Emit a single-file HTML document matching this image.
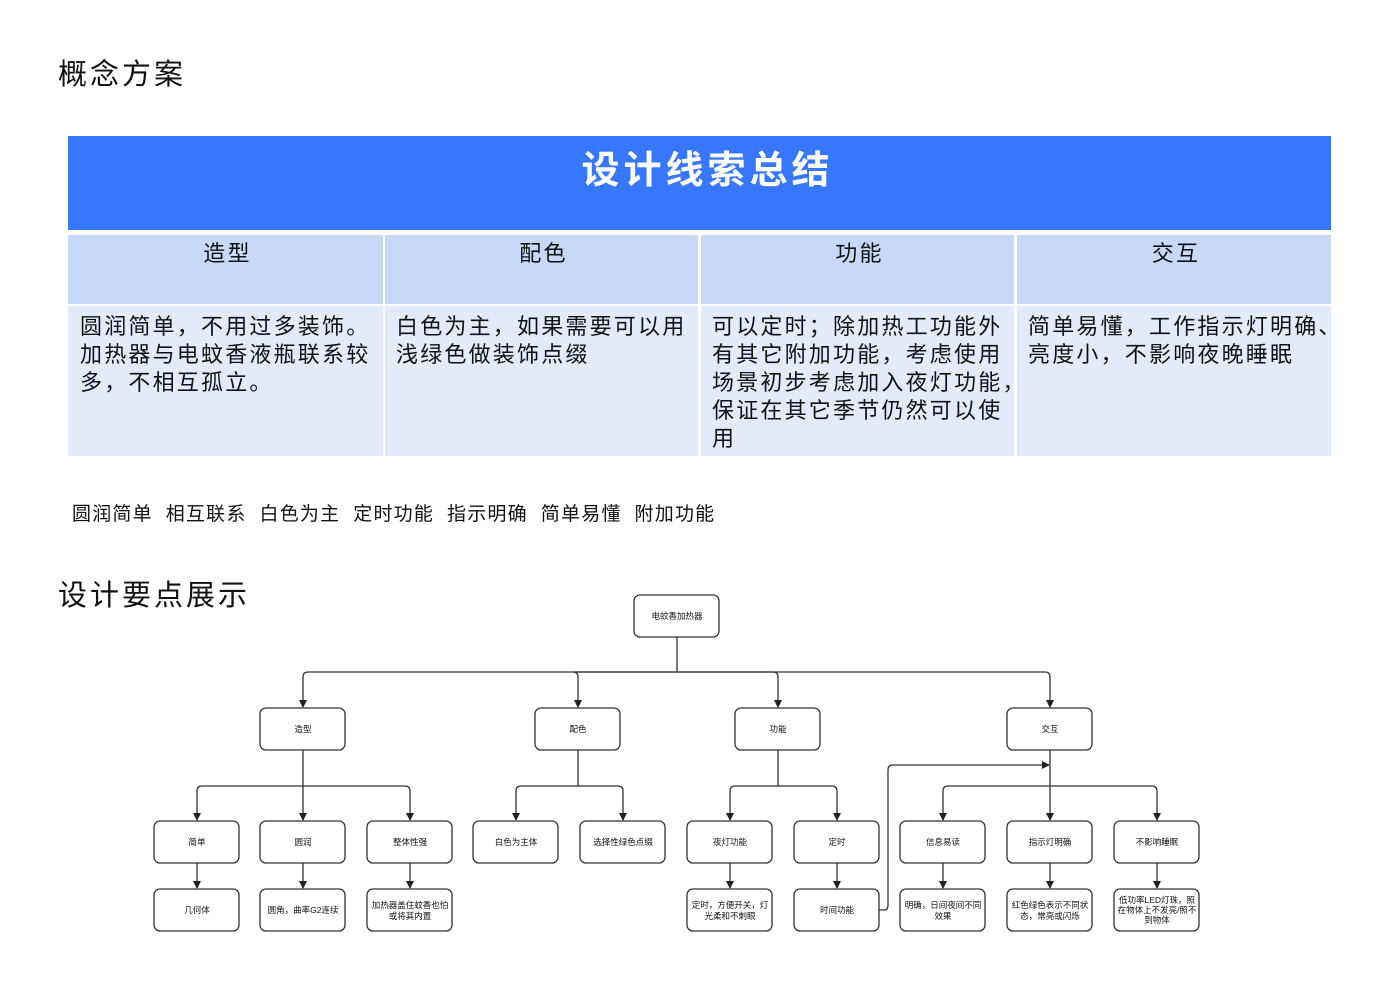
<!DOCTYPE html>
<html><head><meta charset="utf-8"><style>
body{margin:0;width:1400px;height:990px;background:#fff;position:relative;overflow:hidden;font-family:"Liberation Sans","Noto Sans CJK SC",sans-serif;color:#111}
.a{position:absolute;white-space:nowrap}
.t{font-size:22px;letter-spacing:2.2px;line-height:28px}
</style></head><body>
<div class="a" style="left:58px;top:51px;font-size:29px;letter-spacing:3px">概念方案</div>
<div class="a" style="left:68px;top:136px;width:1263px;height:94px;background:#3677fe"></div>
<div class="a" style="left:76px;top:139px;width:1263px;text-align:center;color:#fff;font-size:38px;font-weight:bold;letter-spacing:4px">设计线索总结</div>
<div class="a" style="left:68px;top:235px;width:315px;height:69px;background:#c6d9f7"></div>
<div class="a" style="left:385px;top:235px;width:313px;height:69px;background:#c6d9f7"></div>
<div class="a" style="left:701px;top:235px;width:313px;height:69px;background:#c6d9f7"></div>
<div class="a" style="left:1017px;top:235px;width:314px;height:69px;background:#c6d9f7"></div>
<div class="a" style="left:68px;top:306px;width:315px;height:150px;background:#e3ebfb"></div>
<div class="a" style="left:385px;top:306px;width:313px;height:150px;background:#e3ebfb"></div>
<div class="a" style="left:701px;top:306px;width:313px;height:150px;background:#e3ebfb"></div>
<div class="a" style="left:1017px;top:306px;width:314px;height:150px;background:#e3ebfb"></div>
<div class="a t" style="left:70px;top:240px;width:315px;text-align:center">造型</div>
<div class="a t" style="left:387px;top:240px;width:313px;text-align:center">配色</div>
<div class="a t" style="left:703px;top:240px;width:313px;text-align:center">功能</div>
<div class="a t" style="left:1019px;top:240px;width:314px;text-align:center">交互</div>
<div class="a t" style="left:80px;top:313px">圆润简单，不用过多装饰。<br>加热器与电蚊香液瓶联系较<br>多，不相互孤立。</div>
<div class="a t" style="left:396px;top:313px">白色为主，如果需要可以用<br>浅绿色做装饰点缀</div>
<div class="a t" style="left:712px;top:313px">可以定时；除加热工功能外<br>有其它附加功能，考虑使用<br>场景初步考虑加入夜灯功能，<br>保证在其它季节仍然可以使<br>用</div>
<div class="a t" style="left:1028px;top:313px">简单易懂，工作指示灯明确、<br>亮度小，不影响夜晚睡眠</div>
<div class="a" style="left:72px;top:499px;font-size:19px;letter-spacing:1.2px">圆润简单&nbsp; 相互联系&nbsp; 白色为主&nbsp; 定时功能&nbsp; 指示明确&nbsp; 简单易懂&nbsp; 附加功能</div>
<div class="a" style="left:58px;top:572px;font-size:29px;letter-spacing:3px">设计要点展示</div>
<svg class="a" style="left:0;top:0" width="1400" height="990" font-family="Liberation Sans,Noto Sans CJK SC,sans-serif" font-size="8.5">
<defs><marker id="m" markerWidth="8" markerHeight="8" refX="7" refY="4" orient="auto" markerUnits="userSpaceOnUse"><path d="M0,0 L8,4 L0,8z" fill="#222"/></marker></defs>
<g stroke="#333" stroke-width="1.3" fill="none" marker-end="url(#m)">
<path d="M677,637 V672 H308 Q303,672 303,677 V707"/>
<path d="M677,672 H573 Q578,672 578,677 V707"/>
<path d="M677,672 H773 Q778,672 778,677 V707"/>
<path d="M677,672 H1045 Q1050,672 1050,677 V707"/>
<path d="M303,750 V786 H202 Q197,786 197,791 V820"/>
<path d="M303,786 V820"/>
<path d="M303,786 H405 Q410,786 410,791 V820"/>
<path d="M578,750 V786 H521 Q516,786 516,791 V820"/>
<path d="M578,786 H618 Q623,786 623,791 V820"/>
<path d="M778,750 V786 H735 Q730,786 730,791 V820"/>
<path d="M778,786 H832 Q837,786 837,791 V820"/>
<path d="M1050,750 V786 H948 Q943,786 943,791 V820"/>
<path d="M1050,786 V820"/>
<path d="M1050,786 H1152 Q1157,786 1157,791 V820"/>
<path d="M879,910 H884 Q888,910 888,905 V770 Q888,765 893,765 H1049"/>
<path d="M197,863 V888"/><path d="M303,863 V888"/><path d="M410,863 V888"/>
<path d="M730,863 V888"/><path d="M837,863 V888"/><path d="M943,863 V888"/><path d="M1050,863 V888"/><path d="M1157,863 V888"/>
</g>
<g fill="#fff" stroke="#333" stroke-width="1.3">
<rect x="634" y="595" width="85" height="42" rx="6"/>
<rect x="260" y="708" width="85" height="42" rx="6"/><rect x="535" y="708" width="85" height="42" rx="6"/><rect x="735" y="708" width="85" height="42" rx="6"/><rect x="1007" y="708" width="85" height="42" rx="6"/>
<rect x="154" y="821" width="85" height="42" rx="6"/><rect x="260" y="821" width="85" height="42" rx="6"/><rect x="367" y="821" width="85" height="42" rx="6"/><rect x="473" y="821" width="85" height="42" rx="6"/><rect x="580" y="821" width="85" height="42" rx="6"/><rect x="687" y="821" width="85" height="42" rx="6"/><rect x="794" y="821" width="85" height="42" rx="6"/><rect x="900" y="821" width="85" height="42" rx="6"/><rect x="1007" y="821" width="85" height="42" rx="6"/><rect x="1114" y="821" width="85" height="42" rx="6"/>
<rect x="154" y="889" width="85" height="42" rx="6"/><rect x="260" y="889" width="85" height="42" rx="6"/><rect x="367" y="889" width="85" height="42" rx="6"/><rect x="687" y="889" width="85" height="42" rx="6"/><rect x="794" y="889" width="85" height="42" rx="6"/><rect x="900" y="889" width="85" height="42" rx="6"/><rect x="1007" y="889" width="85" height="42" rx="6"/><rect x="1114" y="889" width="85" height="42" rx="6"/>
</g>
<g text-anchor="middle" fill="#111">
<text x="677" y="619">电蚊香加热器</text>
<text x="303" y="732">造型</text><text x="578" y="732">配色</text><text x="778" y="732">功能</text><text x="1050" y="732">交互</text>
<text x="197" y="845">简单</text><text x="303" y="845">圆润</text><text x="410" y="845">整体性强</text><text x="516" y="845">白色为主体</text><text x="623" y="845">选择性绿色点缀</text><text x="730" y="845">夜灯功能</text><text x="837" y="845">定时</text><text x="943" y="845">信息易读</text><text x="1050" y="845">指示灯明确</text><text x="1157" y="845">不影响睡眠</text>
<text x="197" y="913">几何体</text><text x="303" y="913">圆角，曲率G2连续</text>
<text x="410" y="908">加热器盖住蚊香也怕</text><text x="410" y="919">或将其内置</text>
<text x="730" y="908">定时，方便开关，灯</text><text x="730" y="919">光柔和不刺眼</text>
<text x="837" y="913">时间功能</text>
<text x="943" y="908">明确，日间夜间不同</text><text x="943" y="919">效果</text>
<text x="1050" y="908">红色绿色表示不同状</text><text x="1050" y="919">态，常亮或闪烁</text>
<text x="1157" y="903">低功率LED灯珠，照</text><text x="1157" y="913">在物体上不发亮/照不</text><text x="1157" y="923">到物体</text>
</g>
</svg>
</body></html>
